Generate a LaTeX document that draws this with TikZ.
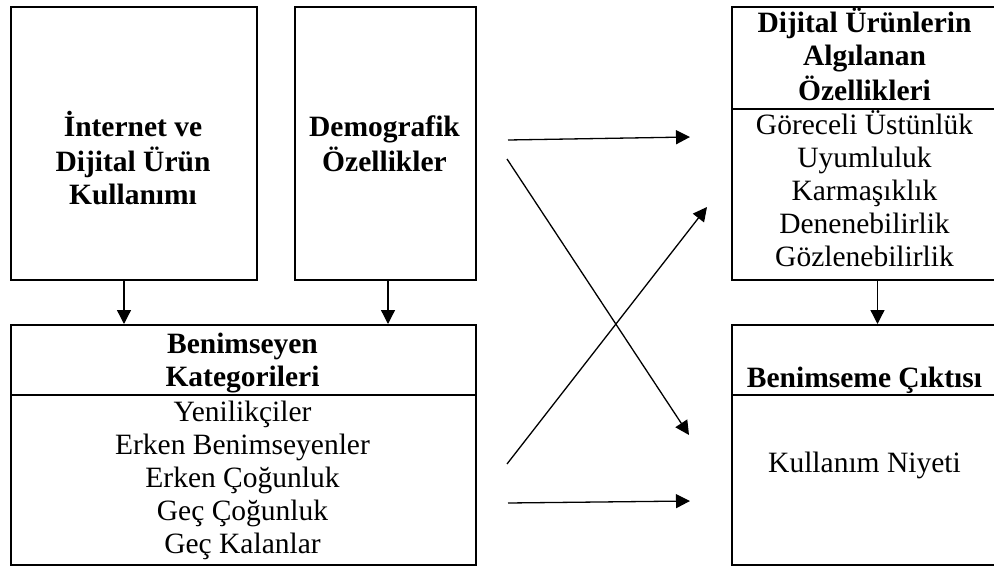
\documentclass[tikz,border=0pt]{standalone}
\usepackage{fontspec}
\setmainfont{Liberation Serif}
\usetikzlibrary{arrows.meta}
\newcommand\mylines[1]{\begin{tabular}[t]{@{}c@{}}#1\end{tabular}}
\begin{document}
\begin{tikzpicture}[x=1pt,y=-1pt,
  box/.style={draw=black,line width=2pt,rectangle,inner sep=0pt,anchor=north west},
  txt/.style={anchor=base,inner sep=0pt,font=\fontsize{29.5}{33}\selectfont},
  btxt/.style={txt,font=\fontsize{29.5}{33}\selectfont\bfseries},
  arr/.style={line width=1.3pt,-{Triangle[length=14pt,width=14pt]}}]
\useasboundingbox (0,0) rectangle (994,567);
\clip (0,0) rectangle (994,567);
% top left boxes
\node[box,minimum width=246pt,minimum height=272.5pt] (inet) at (10,6) {};
\node[box,minimum width=181pt,minimum height=272.5pt] (demo) at (294,6) {};
% adopter categories
\node[box,minimum width=464.5pt,minimum height=70pt] (adoptHead) at (10,324) {};
\node[box,minimum width=464.5pt,minimum height=169.5pt] (adoptBody) at (10,394) {};
% perceived attributes
\node[box,minimum width=267pt,minimum height=102pt] (percHead) at (731,6) {};
\node[box,minimum width=267pt,minimum height=170.5pt] (percBody) at (731,108) {};
% outcome
\node[box,minimum width=267pt,minimum height=70pt] (outHead) at (731,324) {};
\node[box,minimum width=267pt,minimum height=169.5pt] (outBody) at (731,394) {};
% texts
\node[btxt] (tInet) at (133,137) {\mylines{İnternet ve\\Dijital Ürün\\Kullanımı}};
\node[btxt] (tDemo) at (384.5,137) {\mylines{Demografik\\Özellikler}};
\node[btxt] (tAdoptHead) at (242.5,353) {\mylines{Benimseyen\\Kategorileri}};
\node[txt] (tAdoptBody) at (242.5,421.5) {\mylines{Yenilikçiler\\Erken Benimseyenler\\Erken Çoğunluk\\Geç Çoğunluk\\Geç Kalanlar}};
\node[btxt] (tPercHead) at (864.5,33) {\mylines{Dijital Ürünlerin\\Algılanan\\Özellikleri}};
\node[txt] (tPercBody) at (864.5,135) {\mylines{Göreceli Üstünlük\\Uyumluluk\\Karmaşıklık\\Denenebilirlik\\Gözlenebilirlik}};
\node[btxt] (tOutHead) at (864.5,387) {Benimseme Çıktısı};
\node[txt] (tOutBody) at (864.5,472) {Kullanım Niyeti};
% vertical arrows
\draw[arr] ([xshift=-10pt]inet.south) -- ([xshift=-10pt]inet.south |- adoptHead.north);
\draw[arr] ([xshift=2.5pt]demo.south) -- ([xshift=2.5pt]demo.south |- adoptHead.north);
\draw[arr] ([xshift=12pt]percBody.south) -- ([xshift=12pt]percBody.south |- outHead.north);
% middle arrows
\coordinate (a1s) at (508,140); \coordinate (a1e) at (690,137);
\coordinate (a2s) at (507,159); \coordinate (a2e) at (689,435);
\coordinate (a3s) at (507,464); \coordinate (a3e) at (707,207);
\coordinate (a4s) at (508,503); \coordinate (a4e) at (690,501);
\draw[arr] (a1s) -- (a1e);
\draw[arr] (a2s) -- (a2e);
\draw[arr] (a3s) -- (a3e);
\draw[arr] (a4s) -- (a4e);
\end{tikzpicture}
\end{document}
